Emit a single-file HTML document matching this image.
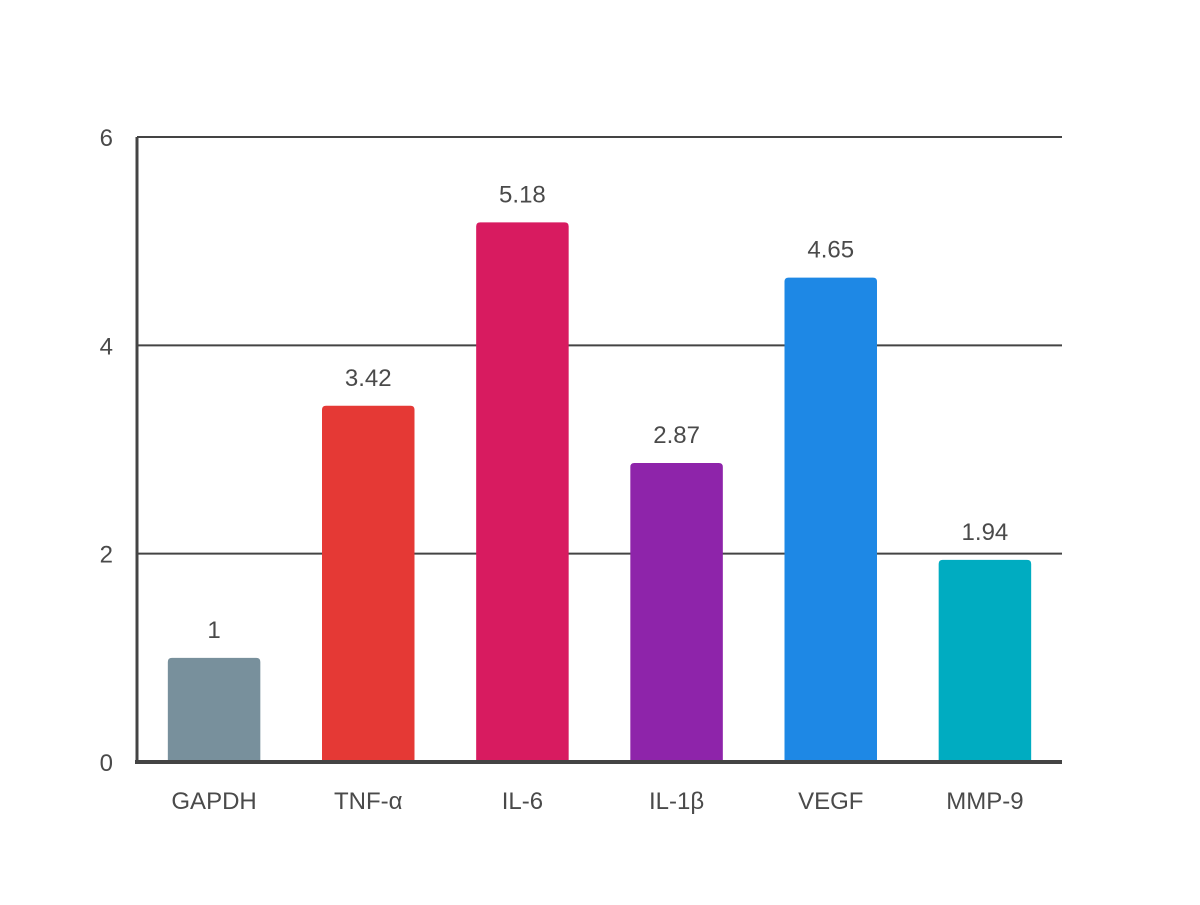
<!DOCTYPE html>
<html><head><meta charset="utf-8"><style>
body{margin:0;background:#fff}
svg text{font-family:"Liberation Sans","DejaVu Sans",sans-serif;fill:#4a4a4a}
</style></head><body>
<svg id="chart" width="1200" height="900"></svg>
<script>
const categories=["GAPDH","TNF-α","IL-6","IL-1β","VEGF","MMP-9"];
const values=[1,3.42,5.18,2.87,4.65,1.94];
const valueLabels=["1","3.42","5.18","2.87","4.65","1.94"];
const colors=["#78909c","#e53935","#d81b60","#8e24aa","#1e88e5","#00acc1"];
const yTicks=[0,2,4,6];
const NS="http://www.w3.org/2000/svg";
const svg=document.getElementById('chart');
const x0=137,x1=1062,yBase=762,yTop=137,yMax=6;
const y=v=>yBase-(v/yMax)*(yBase-yTop);
const band=(x1-x0)/categories.length;
const xc=i=>x0+band*(i+0.5);
function mk(tag,attrs){const e=document.createElementNS(NS,tag);for(const k in attrs)e.setAttribute(k,attrs[k]);svg.appendChild(e);return e;}
yTicks.forEach(t=>{
  if(t>0){const g=mk('line',{x1:x0,x2:x1,y1:y(t),y2:y(t),stroke:'#444',"stroke-width":2});
  
  }
  const tl=mk('text',{x:113,y:y(t)+9,"text-anchor":"end","font-size":24});
  tl.textContent=t;
  
  
});
categories.forEach((c,i)=>{
  const bw=band*0.6,bx=xc(i)-bw/2,by=y(values[i]),h=yBase-by,r=4;
  const p=mk('path',{d:`M${bx},${yBase}V${by+r}Q${bx},${by} ${bx+r},${by}H${bx+bw-r}Q${bx+bw},${by} ${bx+bw},${by+r}V${yBase}Z`,fill:colors[i]});
  
  
  const vl=mk('text',{x:xc(i),y:by-20,"text-anchor":"middle","font-size":24});
  vl.textContent=valueLabels[i];
  
  
  const cl=mk('text',{x:xc(i),y:809,"text-anchor":"middle","font-size":24});
  cl.textContent=c;
  
  
});
const ya=mk('line',{x1:x0,x2:x0,y1:yTop,y2:yBase,stroke:'#444',"stroke-width":3});


const xa=mk('line',{x1:x0-2,x2:x1,y1:yBase,y2:yBase,stroke:'#444',"stroke-width":4});


</script>
</body></html>
